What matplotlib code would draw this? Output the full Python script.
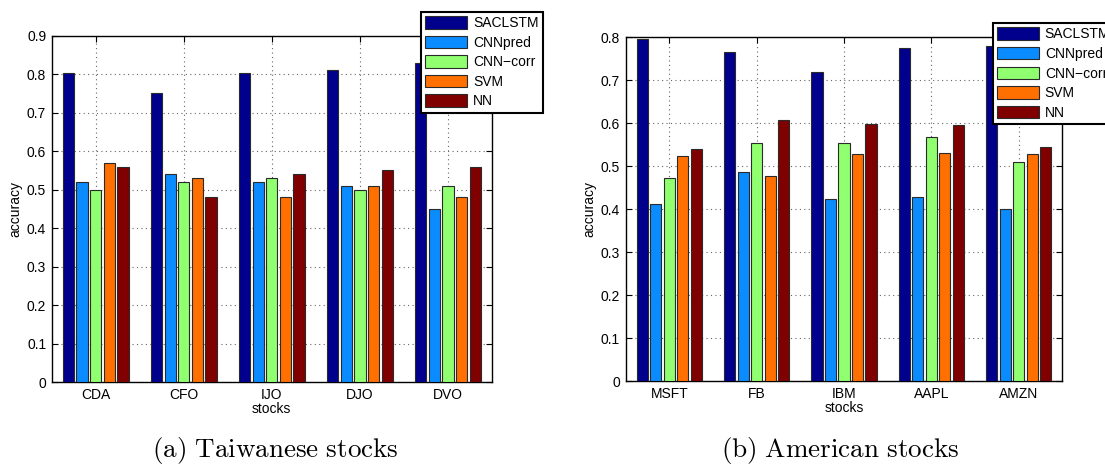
import matplotlib
matplotlib.use("Agg")
import matplotlib.pyplot as plt
import numpy as np

plt.rcParams['font.family'] = ['Liberation Sans', 'DejaVu Sans']
plt.rcParams['mathtext.fontset'] = 'cm'

methods = ["SACLSTM", "CNNpred", "CNN\u2212corr", "SVM", "NN"]
colors = ["#00008C", "#0A8CFF", "#90FF70", "#FF7000", "#800000"]

tw_stocks = ["CDA", "CFO", "IJO", "DJO", "DVO"]
tw_saclstm = [0.802, 0.752, 0.802, 0.812, 0.828]
tw_cnnpred = [0.520, 0.541, 0.520, 0.510, 0.450]
tw_cnncorr = [0.500, 0.520, 0.531, 0.500, 0.510]
tw_svm = [0.570, 0.531, 0.480, 0.510, 0.480]
tw_nn = [0.560, 0.480, 0.541, 0.552, 0.560]

us_stocks = ["MSFT", "FB", "IBM", "AAPL", "AMZN"]
us_saclstm = [0.796, 0.766, 0.719, 0.775, 0.779]
us_cnnpred = [0.412, 0.487, 0.424, 0.429, 0.401]
us_cnncorr = [0.473, 0.554, 0.554, 0.567, 0.510]
us_svm = [0.525, 0.478, 0.529, 0.532, 0.529]
us_nn = [0.540, 0.608, 0.599, 0.597, 0.546]

tw_yticks = [0, 0.1, 0.2, 0.3, 0.4, 0.5, 0.6, 0.7, 0.8, 0.9]
us_yticks = [0, 0.1, 0.2, 0.3, 0.4, 0.5, 0.6, 0.7, 0.8]

fig = plt.figure(figsize=(11.05, 4.65), dpi=100)
ax1 = fig.add_axes([0.0468, 0.1778, 0.4452 - 0.0468, 0.9232 - 0.1778])
ax2 = fig.add_axes([0.5662, 0.180, 0.9614 - 0.5662, 0.9198 - 0.180])


def draw(ax, stocks, series, yticks):
    x = np.arange(1, len(stocks) + 1)
    pitch = 0.155
    width = 0.128
    handles = []
    for i, (vals, c) in enumerate(zip(series, colors)):
        off = (i - 2) * pitch
        h = ax.bar(x + off, vals, width=width, color=c, edgecolor="#2a2a2a",
                   linewidth=0.8, zorder=3)
        handles.append(h)
    ax.set_xlim(0.5, len(stocks) + 0.5)
    ax.set_ylim(yticks[0], yticks[-1])
    ax.set_yticks(yticks)
    ax.set_yticklabels([("%g" % v) for v in yticks])
    ax.set_xticks(x)
    ax.set_xticklabels(stocks)
    ax.tick_params(direction="in", top=True, right=True, length=4,
                   width=0.8, labelsize=10, pad=4)
    ax.grid(True, linestyle=(0, (1, 3)), color="#666666", linewidth=0.8,
            zorder=0)
    ax.set_axisbelow(True)
    for s in ax.spines.values():
        s.set_linewidth(1.0)
    ax.set_ylabel("accuracy", fontsize=10, labelpad=3)
    ax.set_xlabel("stocks", fontsize=10, labelpad=0)
    return handles


h1 = draw(ax1, tw_stocks, [tw_saclstm, tw_cnnpred, tw_cnncorr, tw_svm, tw_nn], tw_yticks)
h2 = draw(ax2, us_stocks, [us_saclstm, us_cnnpred, us_cnncorr, us_svm, us_nn], us_yticks)

for handles, anchor in [(h1, (421 / 1105, 1 - 12 / 465)), (h2, (992.7 / 1105, 1 - 23.3 / 465))]:
    leg = fig.legend(handles, methods, loc="upper left", bbox_to_anchor=anchor,
                     bbox_transform=fig.transFigure, fontsize=10,
                     fancybox=False, framealpha=1, edgecolor="black",
                     handlelength=3.0, handleheight=1.0, labelspacing=0.4,
                     handletextpad=0.45, borderpad=0.3, borderaxespad=0)
    leg.get_frame().set_linewidth(1.5)

fig.text(275 / 1105, 1 - 457 / 465, r"$\mathrm{(a)\ Taiwanese\ stocks}$",
         ha="center", va="baseline", fontsize=19.5)
fig.text(840 / 1105, 1 - 457 / 465, r"$\mathrm{(b)\ American\ stocks}$",
         ha="center", va="baseline", fontsize=19.5)

fig.savefig("out.png", dpi=100)
